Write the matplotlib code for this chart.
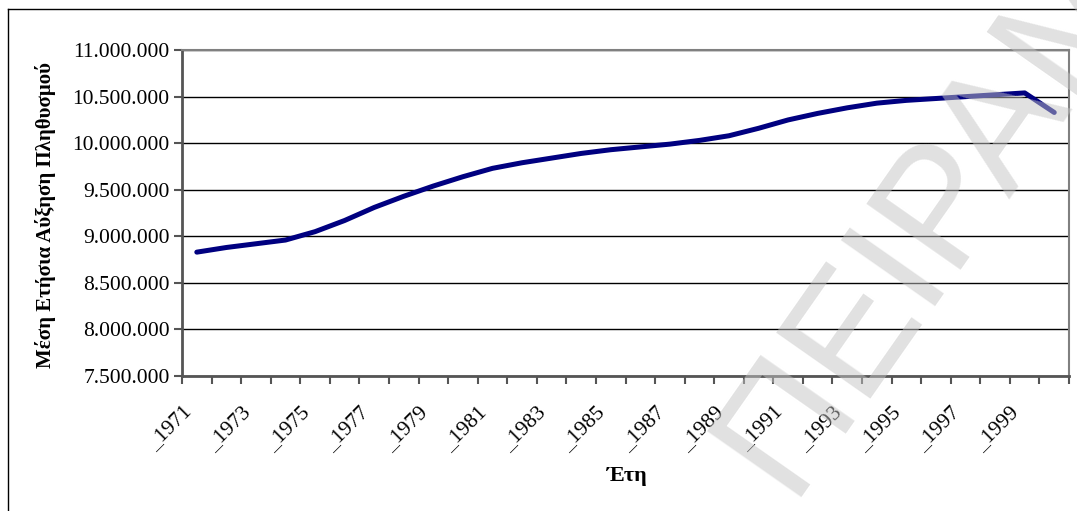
import matplotlib.pyplot as plt
import matplotlib.ticker as mticker
from matplotlib.lines import Line2D
from matplotlib.transforms import ScaledTranslation

plt.rcParams['font.family'] = ['Liberation Serif', 'DejaVu Serif']

# Μέσος ετήσιος πληθυσμός ανά έτος
years = list(range(1971, 2001))
population = [
    8830000, 8880000, 8920000, 8960000, 9050000, 9170000, 9310000, 9430000,
    9540000, 9640000, 9730000, 9790000, 9840000, 9890000, 9930000, 9960000,
    9990000, 10030000, 10080000, 10160000, 10250000, 10320000, 10380000,
    10430000, 10460000, 10480000, 10500000, 10520000, 10540000, 10330000,
]
year_labels = ['_' + str(y) for y in years]

y_label = 'Μέση Ετήσια Αύξηση Πληθυσμού'
x_label = 'Έτη'
watermark = 'ΠΕΙΡΑΜΑΤΙΚΗ ΕΚΔΟΣΗ'

fig = plt.figure(figsize=(10.77, 5.11), dpi=100)
ax = fig.add_axes([0.169, 0.2642, 0.8236, 0.6378])

n = len(years)
xpos = [i + 0.5 for i in range(n)]
ax.plot(xpos, population, color='#000080', linewidth=3.6, solid_capstyle='round',
        solid_joinstyle='round', zorder=3)

ax.set_xlim(0, n)
ax.set_ylim(7500000, 11000000)
ax.set_yticks(range(7500000, 11000001, 500000))
ax.yaxis.set_major_formatter(mticker.FuncFormatter(lambda v, p: f'{v:,.0f}'.replace(',', '.')))
ax.grid(axis='y', color='black', linewidth=1, zorder=1)

# tick marks on category boundaries, labels on every second category
ax.set_xticks(range(n + 1))
ax.set_xticklabels([])
ax.set_xticks(xpos[::2], minor=True)
ax.set_xticklabels(year_labels[::2], minor=True, rotation=45, ha='right',
                   va='center', rotation_mode='anchor', fontsize=15.5)
ax.tick_params(axis='x', which='minor', length=0, pad=24)
ax.tick_params(axis='x', which='major', direction='out', length=6, width=1.5, color='#555555')
ax.tick_params(axis='y', direction='out', length=6, width=1.5, color='#555555',
               labelsize=15.5, pad=3)
shift = ScaledTranslation(-6 / 72, 0, fig.dpi_scale_trans)
for lab in ax.get_xticklabels(minor=True):
    lab.set_transform(lab.get_transform() + shift)

for side in ('left', 'bottom'):
    ax.spines[side].set_color('#555555')
    ax.spines[side].set_linewidth(2)
for side in ('right', 'top'):
    ax.spines[side].set_color('#808080')
    ax.spines[side].set_linewidth(1.5)

fig.text(0.0418, 0.579, y_label, rotation=90, ha='center', va='center',
         fontsize=15, fontweight='bold')
fig.text(0.582, 0.068, x_label, ha='center', va='center', fontsize=16, fontweight='bold')

# outer frame (top and left edges)
fig.add_artist(Line2D([8 / 1077, 1.0], [1 - 9 / 511, 1 - 9 / 511], color='black', linewidth=1))
fig.add_artist(Line2D([8 / 1077, 8 / 1077], [1 - 9 / 511, 0.0], color='black', linewidth=1))

fig.text(0.738, 0.006, watermark, rotation=55, rotation_mode='anchor', ha='left',
         va='baseline', fontsize=120, family='Liberation Sans', color='#c4c4c4',
         alpha=0.5, zorder=10)

fig.savefig('out.png', dpi=100, facecolor='white')
